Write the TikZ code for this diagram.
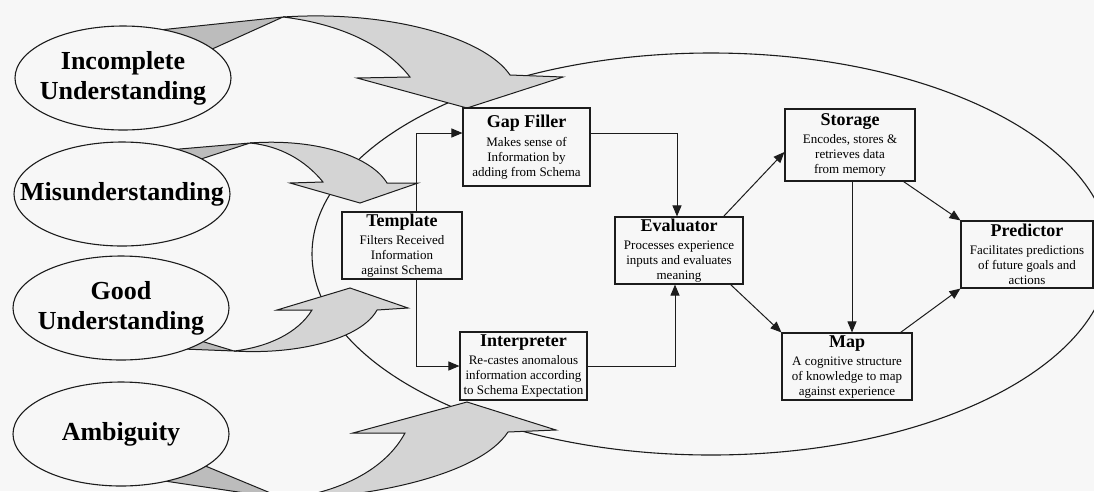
\documentclass[tikz,border=0pt]{standalone}
\usepackage{fontspec}
\setmainfont{Liberation Serif}
\usetikzlibrary{arrows.meta,shapes.geometric,positioning}
\definecolor{paper}{RGB}{247,247,247}
\definecolor{ribbongray}{RGB}{212,212,212}
\definecolor{foldgray}{RGB}{188,188,188}
\definecolor{inkblack}{RGB}{28,28,28}
\newcommand{\boxtitle}[1]{{\bfseries\fontsize{18}{19}\selectfont #1}}

\begin{document}
\begin{tikzpicture}[
  x=1pt, y=-1pt,
  issue/.style={
    ellipse,
    draw=inkblack,
    line width=1.1pt,
    fill=paper,
    minimum width=216pt,
    minimum height=104pt,
    inner sep=0pt
  },
  issuetext/.style={
    align=center,
    inner sep=0pt,
    font=\bfseries\fontsize{26}{30}\selectfont
  },
  block/.style={
    rectangle,
    draw=inkblack,
    line width=1.1pt,
    fill=paper,
    align=center,
    inner sep=0pt,
    font=\fontsize{13}{15}\selectfont
  },
  ribbon/.style={draw=inkblack, line width=1pt, fill=ribbongray, line join=miter},
  fold/.style={draw=inkblack, line width=1pt, fill=foldgray},
  bigring/.style={draw=inkblack, line width=1.1pt},
  line/.style={-{Triangle[length=11pt,width=9pt]}, line width=1pt, draw=inkblack}
]

% Page
\clip (0,0) rectangle (1094,491);
\fill[paper] (0,0) rectangle (1094,491);

% Outer boundary
\draw[bigring] (711,254) ellipse [x radius=399pt, y radius=201pt];

% Curved block arrows
\draw[ribbon] (283,17) .. controls (390,10) and (485,38) .. (510,75)
  -- (563,77) -- (467,108) -- (357,78) -- (410,77)
  .. controls (385,45) and (340,24) .. (283,17) -- cycle;
\draw[fold] (283,17) -- (150,31) -- (210,50) -- cycle;

\draw[ribbon] (250,143) .. controls (320,138) and (372,158) .. (387,183)
  -- (418,183) -- (360,203) -- (290,183) -- (323,182)
  .. controls (305,160) and (280,146) .. (250,143) -- cycle;
\draw[fold] (250,143) -- (168,150) -- (198,160) -- cycle;

\draw[ribbon] (234,351) .. controls (300,355) and (362,338) .. (377,310)
  -- (408,308) -- (350,288) -- (277,310) -- (312,310)
  .. controls (298,333) and (268,347) .. (234,351) -- cycle;
\draw[fold] (234,351) -- (183,349) -- (201,341) -- cycle;

\draw[ribbon] (285,499) .. controls (370,498) and (480,475) .. (508,432)
  -- (556,430) -- (467,402) -- (353,433) -- (405,433)
  .. controls (385,470) and (340,492) .. (285,499) -- cycle;
\draw[fold] (285,499) -- (203,465) -- (158,480) -- cycle;

% Kinds of understanding
\node[issue] (incomplete) at (123,78) {};
\node[issuetext] at (incomplete) {Incomplete\\Understanding};
\node[issue] (misunder) at (122,194) {};
\node[issuetext] at (misunder) {Misunderstanding};
\node[issue] (good) at (121,308) {};
\node[issuetext] at (good) {Good\\Understanding};
\node[issue] (ambiguity) at (121,434) {};
\node[issuetext] at (ambiguity) {Ambiguity};

% Schema components
\node[block, minimum width=120pt, minimum height=67pt] (tmpl) at (402,245.5)
  {\boxtitle{Template}\\[3pt]Filters Received\\Information\\against Schema};
\node[block, minimum width=127pt, minimum height=78pt] (gap) at (526.5,147)
  {\boxtitle{Gap Filler}\\[4pt]Makes sense of\\Information by\\adding from Schema};
\node[block, minimum width=127pt, minimum height=68pt] (interp) at (523.5,366)
  {\boxtitle{Interpreter}\\[3pt]Re-castes anomalous\\information according\\to Schema Expectation};
\node[block, minimum width=128pt, minimum height=67pt] (eval) at (679,250.5)
  {\boxtitle{Evaluator}\\[3pt]Processes experience\\inputs and evaluates\\meaning};
\node[block, minimum width=130pt, minimum height=72pt] (storage) at (850,145)
  {\boxtitle{Storage}\\[3pt]Encodes, stores \&\\retrieves data\\from memory};
\node[block, minimum width=130pt, minimum height=67pt] (map) at (847,366.5)
  {\boxtitle{Map}\\[3pt]A cognitive structure\\of knowledge to map\\against experience};
\node[block, minimum width=132pt, minimum height=67pt] (pred) at (1027,254.5)
  {\boxtitle{Predictor}\\[3pt]Facilitates predictions\\of future goals and\\actions};

% Connectors
\draw[line] ([xshift=14pt]tmpl.north) |- ([yshift=14pt]gap.west);
\draw[line] ([xshift=14pt]tmpl.south) |- (interp.west);
\draw[line] ([yshift=14pt]gap.east) -| ([xshift=-2pt]eval.north);
\draw[line] (interp.east) -| ([xshift=-4pt]eval.south);
\draw[line] ([xshift=-20pt]eval.north east) -- ([yshift=-7pt]storage.west);
\draw[line] ([xshift=-13pt]eval.south east) -- (map.north west);
\draw[line] ([xshift=2pt]storage.south) -- ([xshift=2pt]storage.south |- map.north);
\draw[line] ([xshift=-12pt]storage.south east) -- (pred.north west);
\draw[line] ([xshift=-12pt]map.north east) -- (pred.south west);

\end{tikzpicture}
\end{document}
